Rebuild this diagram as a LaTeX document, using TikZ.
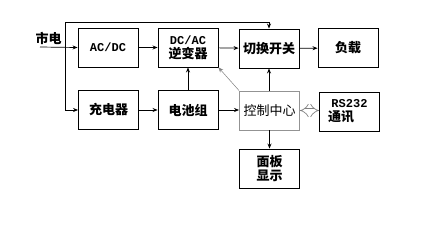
\documentclass[tikz,border=0pt]{standalone}
\usepackage{fontspec}
\newfontfamily\cjk{Noto Sans CJK SC}
\newfontfamily\lat{Liberation Mono}
\usetikzlibrary{arrows.meta}
\begin{document}
\begin{tikzpicture}[x=1pt,y=-1pt,
  blk/.style={draw=black,line width=0.9pt,minimum width=60pt,minimum height=39pt,inner sep=0pt,align=center,font=\cjk\bfseries\fontsize{13}{14}\selectfont},
  ctl/.style={draw=gray!85,line width=0.9pt,minimum width=60pt,minimum height=39pt,inner sep=0pt,align=center,font=\cjk\fontsize{13}{14}\selectfont},
  arr/.style={-{Stealth[length=5pt,width=4pt]},line width=0.7pt}]
\useasboundingbox (0,0) rectangle (448,226);
\node[blk] (acdc) at (108,47.5) {{\lat\bfseries\fontsize{12}{12}\selectfont AC/DC}};
\node[blk] (dcac) at (188,47.5) {{\lat\bfseries\fontsize{12}{12}\selectfont DC/AC}\\逆变器};
\node[blk] (sw) at (269,48.5) {切换开关};
\node[blk] (load) at (348,48) {负载};
\node[blk] (chg) at (108.5,110) {充电器};
\node[blk] (bat) at (188,110) {电池组};
\node[ctl] (ctrl) at (269.5,110.5) {控制中心};
\node[blk] (rs) at (349.5,111.5) {{\lat\bfseries\fontsize{12}{12}\selectfont RS232}\\通讯\hspace*{1.3em}};
\node[blk] (panel) at (269.5,168.5) {面板\\显示};
\node[font=\cjk\bfseries\fontsize{13}{13}\selectfont] (mains) at (48.5,38) {市电};
\coordinate (in) at (40,47);
\coordinate (top) at (65,22);
\draw[arr] (in) -- (acdc.west);
\draw[arr] (top) -- (65,110) -- (chg.west);
\draw[arr] (top) -- (269,22) -- (sw.north);
\draw[arr] (acdc) -- (dcac);
\draw[arr] (dcac) -- (sw);
\draw[arr] (sw) -- (load);
\draw[arr] (chg) -- (bat);
\draw[arr] (bat.east) -- (bat.east -| ctrl.west);
\draw[arr] (bat.north) -- (dcac.south);
\draw[arr] (ctrl.north -| sw) -- (sw.south);
\draw[arr] (ctrl.south) -- (panel.north);
\draw[-{Stealth[length=5pt,width=4pt]},gray,line width=0.5pt] (ctrl.north west) -- (dcac.south east);
\draw[{Implies}-{Implies},gray,double,double distance=4pt,line width=0.7pt] (ctrl.east) -- (rs.west |- ctrl.east);
\end{tikzpicture}
\end{document}
